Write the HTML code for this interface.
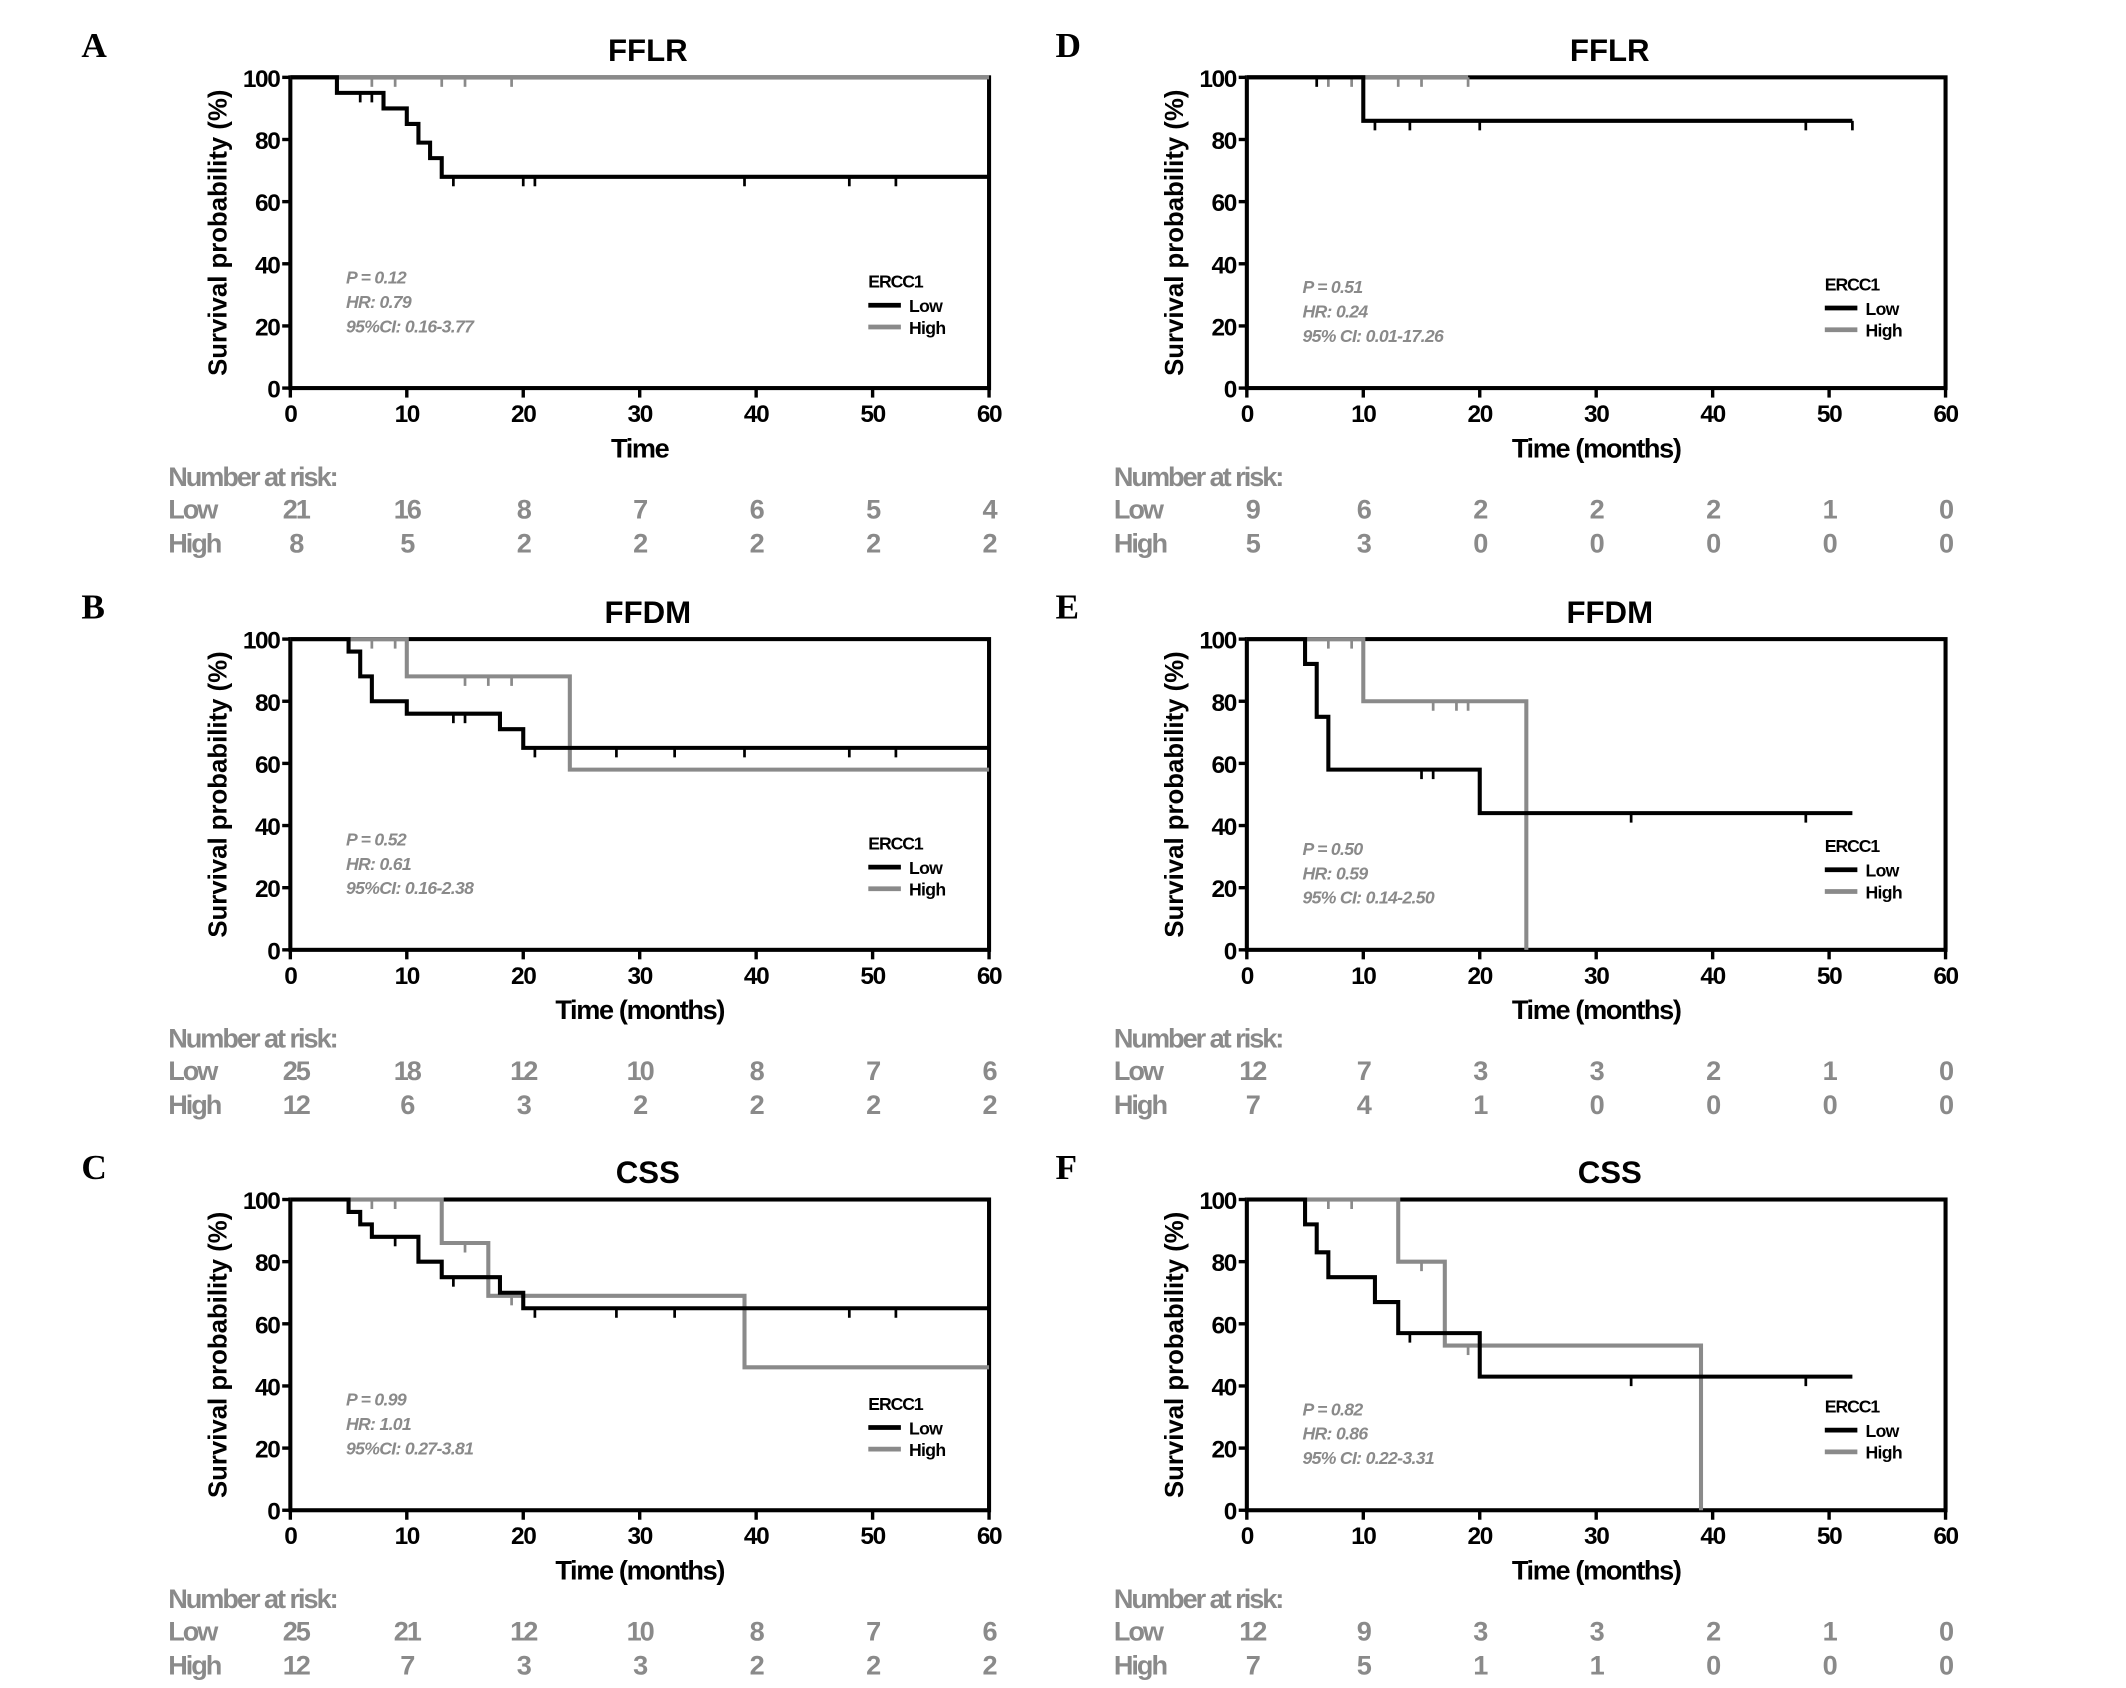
<!DOCTYPE html>
<html><head><meta charset="utf-8"><style>
html,body{margin:0;padding:0;background:#fff;}
svg{display:block;}
text{font-family:"Liberation Sans",sans-serif;}
text.serif{font-family:"Liberation Serif",serif;}
</style></head><body>
<svg id="fig" width="2126" height="1688" viewBox="0 0 1567 1244" preserveAspectRatio="none" xmlns="http://www.w3.org/2000/svg"></svg>
<script>
const panelLetters=["A","B","C","D","E","F"];
const panelTitles=["FFLR","FFDM","CSS","FFLR","FFDM","CSS"];
const xTitles=["Time","Time (months)","Time (months)","Time (months)","Time (months)","Time (months)"];
const pStats=["P = 0.12","P = 0.52","P = 0.99","P = 0.51","P = 0.50","P = 0.82"];
const hrStats=["HR: 0.79","HR: 0.61","HR: 1.01","HR: 0.24","HR: 0.59","HR: 0.86"];
const ciStats=["95%CI: 0.16-3.77","95%CI: 0.16-2.38","95%CI: 0.27-3.81","95% CI: 0.01-17.26","95% CI: 0.14-2.50","95% CI: 0.22-3.31"];
const xTicks=[0,10,20,30,40,50,60];
const yTicks=[0,20,40,60,80,100];
const lowTimes=[[4,8,10,11,12,13],[5,6,7,10,18,20],[5,6,7,11,13,18,20],[10],[5,6,7,20],[5,6,7,11,13,20]];
const lowVals=[[95,90,85,79,74,68],[96,88,80,76,71,65],[96,92,88,80,75,70,65],[86],[92,75,58,44],[92,83,75,67,57,43]];
const lowEnd=[60,60,60,52,52,52];
const lowCens=[[6,7,14,20,21,39,48,52],[14,15,21,28,33,39,48,52],[9,14,21,28,33,48,52],[6,11,14,20,48,52],[15,16,33,48],[14,33,48]];
const highTimes=[[],[10,24],[13,17,39],[],[10,24],[13,17,39]];
const highVals=[[],[88,58],[86,69,46],[],[80,0],[80,53,0]];
const highEnd=[60,60,60,19,24,39];
const highCens=[[7,9,13,15,19],[7,9,15,17,19],[7,9,15,19],[7,9,13,15,19],[7,9,16,18,19],[7,9,15,19]];
const riskLow=[[21,16,8,7,6,5,4],[25,18,12,10,8,7,6],[25,21,12,10,8,7,6],[9,6,2,2,2,1,0],[12,7,3,3,2,1,0],[12,9,3,3,2,1,0]];
const riskHigh=[[8,5,2,2,2,2,2],[12,6,3,2,2,2,2],[12,7,3,3,2,2,2],[5,3,0,0,0,0,0],[7,4,1,0,0,0,0],[7,5,1,1,0,0,0]];

const NS="http://www.w3.org/2000/svg";
const svg=document.getElementById('fig');
const GRAY="#8a8a8a";
function mk(tag,attrs,parent,txt){const e=document.createElementNS(NS,tag);for(const k in attrs)e.setAttribute(k,attrs[k]);if(txt!==undefined)e.textContent=txt;(parent||svg).appendChild(e);return e;}
const tops=[57,471,884];
for(let i=0;i<6;i++){
  const col=i<3?0:1,row=i%3;
  const x0=col?919:214,x1=col?1434:729,y0=tops[row],y1=tops[row]+229;
  const sx=t=>x0+(x1-x0)*t/60, sy=v=>y1-(y1-y0)*v/100;
  const g=mk('g',{});
  
  
  const L=mk('text',{class:'serif',x:col?778:60,y:y0-15,'font-weight':'bold','font-size':26},g,panelLetters[i]);
  
  const T=mk('text',{x:(x0+x1)/2+(col?10:6),y:y0-12,'text-anchor':'middle','font-weight':'bold','font-size':23},g,panelTitles[i]);
  
  const YT=mk('text',{transform:`translate(${x0-47},${(y0+y1)/2}) rotate(-90)`,'text-anchor':'middle','font-weight':'bold','font-size':19},g,'Survival probability (%)');
  
  yTicks.forEach(v=>{
    mk('line',{x1:x0-6,x2:x0,y1:sy(v),y2:sy(v),stroke:'#000','stroke-width':2.5},g);
    const t=mk('text',{x:x0-8,y:sy(v)+7,'text-anchor':'end','font-weight':'bold','font-size':18,'letter-spacing':-1},g,v);
    
  });
  xTicks.forEach(v=>{
    mk('line',{x1:sx(v),x2:sx(v),y1:y1,y2:y1+7,stroke:'#000','stroke-width':2.5},g);
    const t=mk('text',{x:sx(v),y:y1+25,'text-anchor':'middle','font-weight':'bold','font-size':18,'letter-spacing':-1},g,v);
    
  });
  const XT=mk('text',{x:(x0+x1)/2,y:y1+51,'text-anchor':'middle','font-weight':'bold','font-size':20,'letter-spacing':-1},g,xTitles[i]);
  
  mk('rect',{x:x0,y:y0,width:x1-x0,height:y1-y0,fill:'none',stroke:'#000','stroke-width':3},g);
  function curve(times,vals,end,color,name,cens){
    let d=`M${sx(0)},${sy(100)}`;
    times.forEach((t,k)=>{d+=` H${sx(t)} V${sy(vals[k])}`;});
    d+=` H${sx(end)}`;
    const p=mk('path',{d:d,fill:'none',stroke:color,'stroke-width':3},g);
    
    cens.forEach(c=>{
      let v=100;times.forEach((t,k)=>{if(t<=c)v=vals[k];});
      const m=mk('line',{x1:sx(c),x2:sx(c),y1:sy(v),y2:sy(v)+7,stroke:color,'stroke-width':2},g);
      
    });
  }
  curve(highTimes[i],highVals[i],highEnd[i],GRAY,'high-curve',highCens[i]);
  curve(lowTimes[i],lowVals[i],lowEnd[i],'#000','low-curve',lowCens[i]);
  const stx=col?960:255,sty=col?y0+159:y0+152;
  [pStats[i],hrStats[i],ciStats[i]].forEach((s,k)=>{
    const t=mk('text',{x:stx,y:sty+k*18,fill:GRAY,'font-style':'italic','font-weight':'bold','font-size':13,'letter-spacing':-0.5},g,s);
    
  });
  const lx=col?1345:640,ly=col?y0+157:y0+155;
  const lg=mk('g',{},g);
  mk('text',{x:lx,y:ly,'font-weight':'bold','font-size':13,'letter-spacing':-0.8},lg,'ERCC1');
  mk('line',{x1:lx,x2:lx+24,y1:ly+13,y2:ly+13,stroke:'#000','stroke-width':3.5},lg);
  mk('text',{x:lx+30,y:ly+18,'font-weight':'bold','font-size':13,'letter-spacing':-0.5},lg,'Low');
  mk('line',{x1:lx,x2:lx+24,y1:ly+29,y2:ly+29,stroke:GRAY,'stroke-width':3.5},lg);
  mk('text',{x:lx+30,y:ly+34,'font-weight':'bold','font-size':13,'letter-spacing':-0.5},lg,'High');
  const rx=col?821:124,ry=y1+72;
  const rg=mk('g',{fill:GRAY,'font-weight':'bold','font-size':20,'letter-spacing':-1.5},g);
  
  mk('text',{x:rx,y:ry},rg,'Number at risk:');
  mk('text',{x:rx,y:ry+24},rg,'Low');
  mk('text',{x:rx,y:ry+49},rg,'High');
  xTicks.forEach((v,k)=>{
    mk('text',{x:sx(v)+(k===0?4:0),y:ry+24,'text-anchor':'middle'},rg,riskLow[i][k]);
    mk('text',{x:sx(v)+(k===0?4:0),y:ry+49,'text-anchor':'middle'},rg,riskHigh[i][k]);
  });
}
</script>
</body></html>
